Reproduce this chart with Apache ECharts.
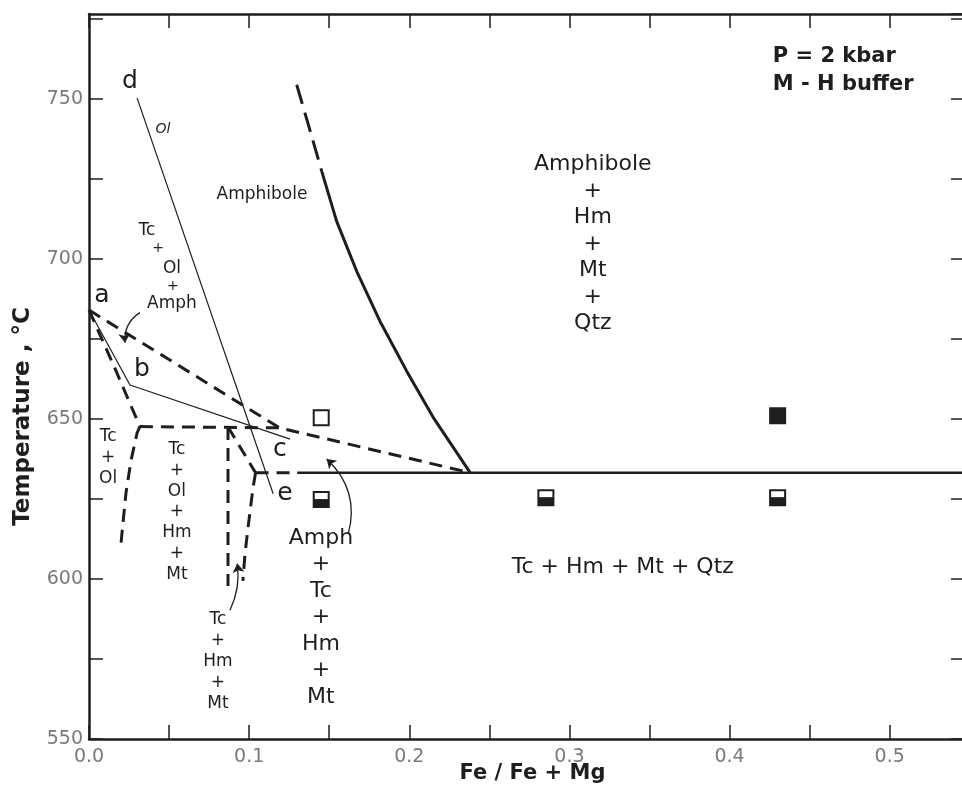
<!DOCTYPE html>
<html>
<head>
<meta charset="utf-8">
<title>Fe / Fe + Mg</title>
<script src="https://cdn.jsdelivr.net/npm/echarts@6/dist/echarts.min.js"></script>
<style>
	html, body { margin: 0; padding: 0; background: #fff; }
	#main { width: 962px; height: 796px; }
</style>
</head>
<body>
<div id="main"></div>
<script>
	// tick labels
	var xTickLabels = ['0.0', '0.1', '0.2', '0.3', '0.4', '0.5'];
	var yTickLabels = ['550', '600', '650', '700', '750'];

	// heavy dashed boundaries  [Fe/Fe+Mg, T °C]
	var dashAtoJ = [[0, 684], [0.119, 647.2], [0.238, 633.2]];
	var dashAtoY1 = [[0, 684], [0.016, 666], [0.0318, 647.6]];
	var dashY1Down = [[0.0318, 647.6], [0.030, 645.6], [0.0262, 636.9], [0.0231, 626.9], [0.0206, 614.4], [0.020, 611]];
	var dashY1toJ = [[0.0318, 647.6], [0.119, 647.2]];
	var dashVertical = [[0.0868, 647.5], [0.0868, 597.8]];
	var dashCornerToY2 = [[0.0868, 647.5], [0.104, 633.2]];
	var dashY2Down = [[0.104, 633.2], [0.1024, 628.4], [0.0993, 616], [0.0974, 607.8], [0.0961, 599.4]];
	var dashY2Right = [[0.104, 633.2], [0.13, 633.2]];
	var dashAmphTop = [[0.1297, 754.4], [0.1375, 741], [0.1453, 727.4]];

	// heavy solid boundaries
	var solidAmph = [[0.1453, 727.4], [0.1546, 711.8], [0.1671, 696.2], [0.1816, 680.6], [0.1983, 665], [0.2149, 650.5], [0.238, 633.2]];
	var solidFloor = [[0.13, 633.2], [0.547, 633.2]];

	// thin solid lines
	var thinOl = [[0.030, 750.3], [0.115, 626.6]];
	var thinABC = [[0, 684], [0.0256, 660.6], [0.1255, 643.7]];

	// experiments
	var openSquares = [[0.145, 650.4]];
	var filledSquares = [[0.430, 651]];
	var halfSquares = [[0.145, 624.8], [0.2853, 625.4], [0.430, 625.4]];

	// arrows: [from, to]
	var arrowA = [[0.0318, 683.2], [0.0225, 673.8]];
	var arrowTcHmMt = [[0.088, 590.2], [0.0926, 604.8]];
	var arrowAmph = [[0.1619, 614.1], [0.1484, 637.5]];

	// annotations [x, y, text, kind]
	var notes = [
		[0.427, 758.9, 'P = 2 kbar\nM - H buffer', 'head'],
		[0.3146, 704.6, 'Amphibole\n+\nHm\n+\nMt\n+\nQtz', 'big'],
		[0.1448, 587.9, 'Amph\n+\nTc\n+\nHm\n+\nMt', 'big'],
		[0.3333, 603.6, 'Tc + Hm + Mt + Qtz', 'big'],
		[0.108, 720.2, 'Amphibole', 'small'],
		[0.0362, 708.7, 'Tc', 'small'],
		[0.0431, 703.4, '+', 'plus'],
		[0.0518, 697.1, 'Ol', 'small'],
		[0.0524, 691.5, '+', 'plus'],
		[0.0518, 685.9, 'Amph', 'small'],
		[0.0119, 637.9, 'Tc\n+\nOl', 'small'],
		[0.0549, 620.9, 'Tc\n+\nOl\n+\nHm\n+\nMt', 'small'],
		[0.0805, 574.2, 'Tc\n+\nHm\n+\nMt', 'small'],
		[0.0081, 688.5, 'a', 'letter'],
		[0.0331, 665.4, 'b', 'letter'],
		[0.1192, 640.5, 'c', 'letter'],
		[0.0256, 755.5, 'd', 'letter'],
		[0.1223, 626.7, 'e', 'letter'],
		[0.0462, 740.5, 'Ol', 'italic']
	];

	var ink = '#1e1e1e';
	var font = 'DejaVu Sans';
	var noteStyles = {
		head: { fontSize: 21, fontWeight: 'bold', lineHeight: 28, align: 'left' },
		big: { fontSize: 22, lineHeight: 26.5, align: 'center' },
		small: { fontSize: 17, lineHeight: 20.8, align: 'center' },
		plus: { fontSize: 14, align: 'center' },
		letter: { fontSize: 25, align: 'center' },
		italic: { fontSize: 14, fontStyle: 'italic', align: 'center' }
	};

	function dashed(data) {
		return { type: 'line', data: data, showSymbol: false, symbol: 'none', z: 3,
			lineStyle: { color: ink, width: 3, type: [13, 8], cap: 'butt', opacity: 1 } };
	}
	function solid(data, w) {
		return { type: 'line', data: data, showSymbol: false, symbol: 'none', z: 3,
			lineStyle: { color: ink, width: w, opacity: 1 } };
	}
	function arrow(data, bend) {
		return { type: 'lines', coordinateSystem: 'cartesian2d', z: 4,
			symbol: ['none', 'arrow'], symbolSize: 9,
			itemStyle: { color: ink, opacity: 1 },
			lineStyle: { color: ink, width: 1.3, opacity: 1, curveness: bend },
			data: [{ coords: data }] };
	}

	var myChart = echarts.init(document.getElementById('main'));

	var axisCommon = {
		type: 'value',
		axisLine: { show: true, onZero: false, lineStyle: { color: ink, width: 2.5 } },
		axisTick: { show: true, inside: true, length: 14, lineStyle: { color: ink, width: 1.5 } },
		splitLine: { show: false },
		nameMoveOverlap: false
	};

	var option = {
		animation: false,
		backgroundColor: '#fff',
		textStyle: { fontFamily: font },
		grid: { left: 89, top: 14, right: -3, bottom: 57, containLabel: false, outerBoundsMode: 'none' },
		xAxis: [
			Object.assign({}, axisCommon, {
				position: 'bottom', min: 0, max: 0.547, interval: 0.05,
				name: 'Fe / Fe + Mg', nameLocation: 'middle', nameGap: 24,
				nameTextStyle: { color: ink, fontSize: 21, fontWeight: 'bold', fontFamily: font, padding: [0, 0, 0, 11] },
				axisLabel: {
					show: true, margin: 9, color: '#7a7a7a', fontSize: 19, fontFamily: font,
					showMaxLabel: false,
					formatter: function (v) {
						var s = v.toFixed(1);
						return (Math.abs(v * 10 - Math.round(v * 10)) < 1e-6 && xTickLabels.indexOf(s) >= 0) ? s : '';
					}
				}
			}),
			Object.assign({}, axisCommon, {
				position: 'top', min: 0, max: 0.547, interval: 0.05,
				axisLabel: { show: false }
			})
		],
		yAxis: [
			Object.assign({}, axisCommon, {
				position: 'left', min: 550, max: 776.5, interval: 25,
				name: 'Temperature , °C', nameLocation: 'middle', nameGap: 54, nameRotate: 90,
				nameTextStyle: { color: ink, fontSize: 23, fontWeight: 'bold', fontFamily: font, padding: [0, 80, 0, 0] },
				axisLabel: {
					show: true, margin: 6, color: '#7a7a7a', fontSize: 19, fontFamily: font,
					showMaxLabel: false,
					formatter: function (v) {
						var s = String(v);
						return yTickLabels.indexOf(s) >= 0 ? s : '';
					}
				}
			}),
			Object.assign({}, axisCommon, {
				position: 'right', min: 550, max: 776.5, interval: 25,
				axisLabel: { show: false }
			})
		],
		series: [
			dashed(dashAtoJ),
			dashed(dashAtoY1),
			dashed(dashY1Down),
			dashed(dashY1toJ),
			dashed(dashVertical),
			dashed(dashCornerToY2),
			dashed(dashY2Down),
			dashed(dashY2Right),
			Object.assign(dashed(dashAmphTop), { lineStyle: { color: ink, width: 3, type: [20, 9], cap: 'butt', opacity: 1 } }),
			solid(solidAmph, 3),
			solid(solidFloor, 2.5),
			solid(thinOl, 1.2),
			solid(thinABC, 1.2),
			arrow(arrowA, -0.3),
			arrow(arrowTcHmMt, -0.15),
			arrow(arrowAmph, -0.3),
			{
				type: 'scatter', z: 5, symbol: 'rect', symbolSize: 15, data: openSquares,
				itemStyle: { color: '#fff', borderColor: ink, borderWidth: 2, opacity: 1 }
			},
			{
				type: 'scatter', z: 5, symbol: 'rect', symbolSize: 15, data: filledSquares,
				itemStyle: { color: ink, borderColor: ink, borderWidth: 2, opacity: 1 }
			},
			{
				type: 'scatter', z: 5, symbol: 'rect', symbolSize: 15, data: halfSquares,
				itemStyle: { color: '#fff', borderColor: ink, borderWidth: 2, opacity: 1 }
			},
			{
				type: 'scatter', z: 6, symbol: 'rect', symbolSize: [15, 8], symbolOffset: [0, 3.5], data: halfSquares,
				itemStyle: { color: ink, opacity: 1 }
			},
			{
				type: 'scatter', z: 7, symbol: 'circle', symbolSize: 1,
				itemStyle: { color: 'rgba(0,0,0,0)', opacity: 1 },
				data: notes.map(function (n) {
					var st = noteStyles[n[3]];
					return {
						value: [n[0], n[1]],
						label: Object.assign({
							show: true, position: 'inside', formatter: n[2], color: ink, opacity: 1,
							fontFamily: font, verticalAlign: 'middle'
						}, st)
					};
				})
			}
		]
	};

	myChart.setOption(option);
	window.addEventListener('resize', function () {
		myChart.resize();
	});
</script>
</body>
</html>
